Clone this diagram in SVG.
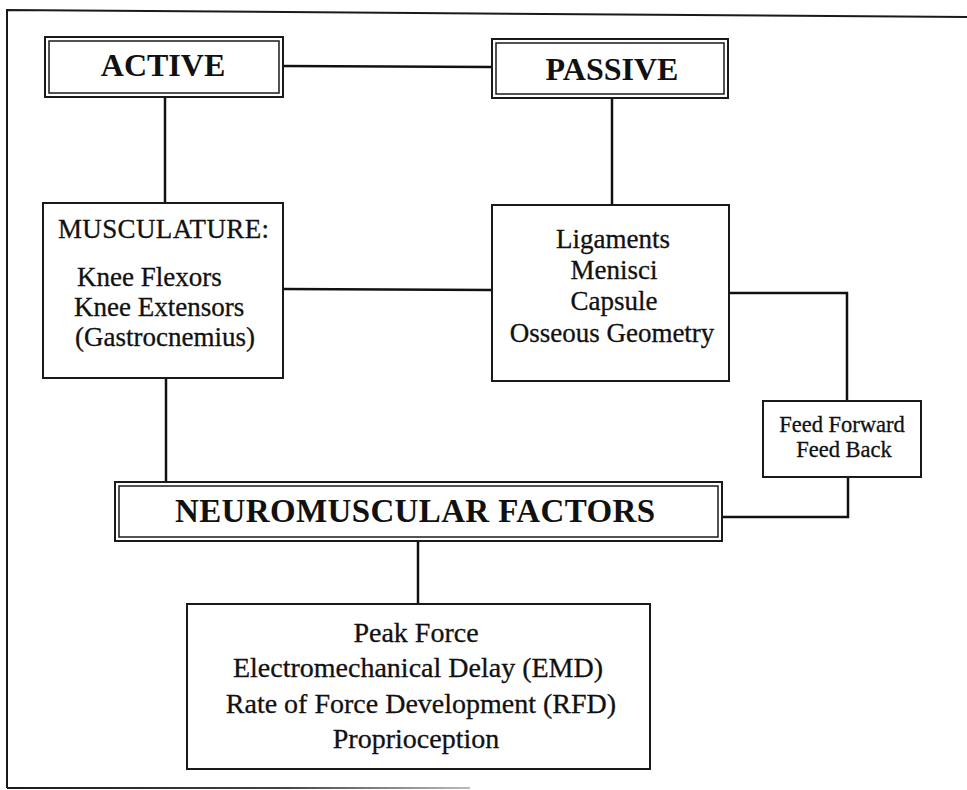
<svg xmlns="http://www.w3.org/2000/svg" width="967" height="790" viewBox="0 0 967 790">
  <defs>
    <linearGradient id="fadeLine" x1="7" y1="0" x2="470" y2="0" gradientUnits="userSpaceOnUse">
      <stop offset="0" stop-color="#1a1a1a"/>
      <stop offset="0.6" stop-color="#444"/>
      <stop offset="1" stop-color="#bbb"/>
    </linearGradient>
  </defs>
  <style>
    .frame { fill: none; stroke: #1a1a1a; stroke-width: 2; }
    .box { fill: #fff; stroke: #1a1a1a; stroke-width: 2; }
    .inner { fill: none; stroke: #1a1a1a; stroke-width: 1.5; }
    .wire { fill: none; stroke: #111; stroke-width: 2.5; }
    .head { font-family: "Liberation Serif", "Times New Roman", serif; font-weight: bold; fill: #111; text-anchor: middle; }
    .body { font-family: "Liberation Serif", "Times New Roman", serif; fill: #111; stroke: #111; stroke-width: 0.3; }
    .mid { text-anchor: middle; }
  </style>
  <rect width="967" height="790" fill="#fff"/>

  <!-- page frame -->
  <path class="frame" d="M7,788 L7,10 L967,17"/>
  <line x1="7" y1="788" x2="470" y2="788" stroke="url(#fadeLine)" stroke-width="2"/>

  <!-- connectors -->
  <g id="connectors">
    <line class="wire" x1="283" y1="66" x2="492" y2="67"/>
    <line class="wire" x1="165" y1="97" x2="165" y2="203"/>
    <line class="wire" x1="612" y1="98" x2="612" y2="205"/>
    <line class="wire" x1="283" y1="289" x2="492" y2="290"/>
    <polyline class="wire" points="729,293 847,293 847,401"/>
    <polyline class="wire" points="848,477 848,517 722,517"/>
    <line class="wire" x1="166" y1="378" x2="166" y2="482"/>
    <line class="wire" x1="418" y1="541" x2="418" y2="604"/>
  </g>

  <!-- ACTIVE -->
  <g id="active">
    <rect class="box" x="45" y="37" width="238" height="60"/>
    <rect class="inner" x="49" y="41" width="230" height="52"/>
    <text class="head" x="163" y="76" font-size="32">ACTIVE</text>
  </g>

  <!-- PASSIVE -->
  <g id="passive">
    <rect class="box" x="492" y="39" width="236" height="59"/>
    <rect class="inner" x="496" y="43" width="228" height="51"/>
    <text class="head" x="612" y="80" font-size="32">PASSIVE</text>
  </g>

  <!-- MUSCULATURE -->
  <g id="musculature">
    <rect class="box" x="43" y="203" width="240" height="175"/>
    <text class="body" x="58" y="238" font-size="27" textLength="211">MUSCULATURE:</text>
    <text class="body" x="77" y="286" font-size="27">Knee Flexors</text>
    <text class="body" x="74" y="316" font-size="27">Knee Extensors</text>
    <text class="body" x="75" y="346" font-size="27">(Gastrocnemius)</text>
  </g>

  <!-- passive structures -->
  <g id="structures">
    <rect class="box" x="492" y="205" width="237" height="176"/>
    <text class="body mid" x="613" y="248" font-size="27">Ligaments</text>
    <text class="body mid" x="614" y="279" font-size="27">Menisci</text>
    <text class="body mid" x="614" y="310" font-size="27">Capsule</text>
    <text class="body mid" x="612" y="342" font-size="27">Osseous Geometry</text>
  </g>

  <!-- feed forward / feed back -->
  <g id="feed">
    <rect class="box" x="763" y="401" width="158" height="76"/>
    <text class="body mid" x="842" y="432" font-size="22.5">Feed Forward</text>
    <text class="body mid" x="844" y="457" font-size="22.5">Feed Back</text>
  </g>

  <!-- NEUROMUSCULAR FACTORS -->
  <g id="neuromuscular">
    <rect class="box" x="115" y="482" width="607" height="59"/>
    <rect class="inner" x="119" y="486" width="599" height="51"/>
    <text class="head" x="415" y="522" font-size="33" textLength="480">NEUROMUSCULAR FACTORS</text>
  </g>

  <!-- measured outcomes -->
  <g id="outcomes">
    <rect class="box" x="187" y="604" width="463" height="165"/>
    <text class="body mid" x="416" y="642" font-size="28">Peak Force</text>
    <text class="body mid" x="418" y="677" font-size="28">Electromechanical Delay (EMD)</text>
    <text class="body mid" x="421" y="713" font-size="28">Rate of Force Development (RFD)</text>
    <text class="body mid" x="416" y="748" font-size="28">Proprioception</text>
  </g>
</svg>
